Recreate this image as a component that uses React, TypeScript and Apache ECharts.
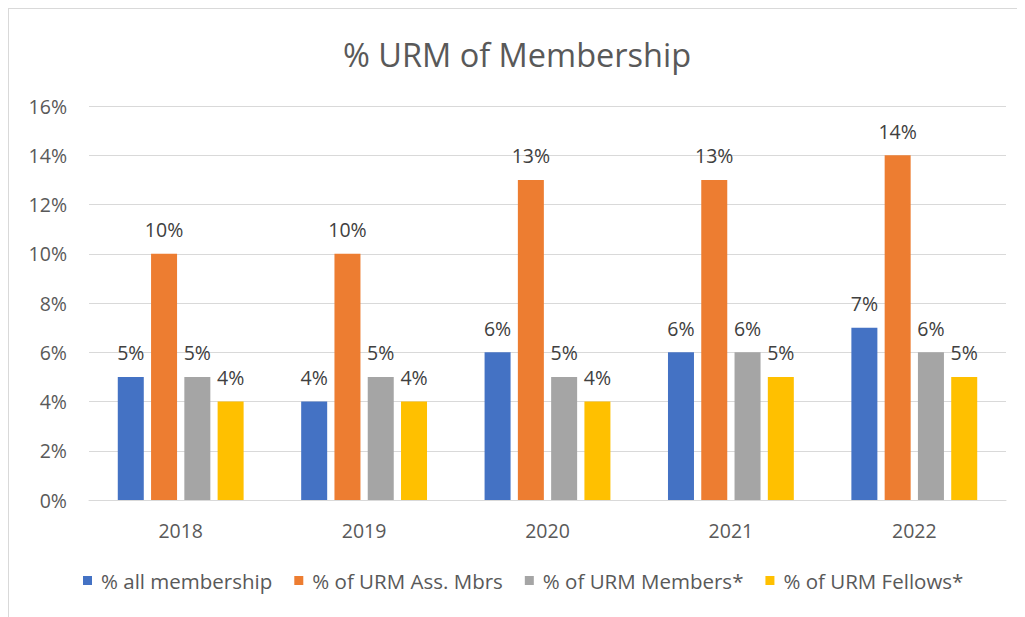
import React, { useEffect, useRef } from "react";
import * as echarts from "echarts";

const years = ["2018", "2019", "2020", "2021", "2022"];
const allMembership = [5, 4, 6, 6, 7];
const urmAssMbrs = [10, 10, 13, 13, 14];
const urmMembers = [5, 5, 5, 6, 6];
const urmFellows = [4, 4, 4, 5, 5];
const seriesNames = ["% all membership", "% of URM Ass. Mbrs", "% of URM Members*", "% of URM Fellows*"];
const colors = ["#4472C4", "#ED7D31", "#A5A5A5", "#FFC000"];

const FONT = "'Open Sans', sans-serif";

export default function App() {
  const ref = useRef<HTMLDivElement>(null);
  useEffect(() => {
    if (!ref.current) return;
    const chart = echarts.init(ref.current, null, { renderer: "svg" });
    const data = [allMembership, urmAssMbrs, urmMembers, urmFellows];
    chart.setOption({
      animation: false,
      textStyle: { fontFamily: FONT },
      title: {
        text: "% URM of Membership",
        left: "center",
        top: 24,
        textStyle: { fontFamily: FONT, fontSize: 32.5, fontWeight: "normal", color: "#595959" },
      },
      legend: {
        bottom: 21,
        left: 69,
        itemWidth: 9,
        itemHeight: 9,
        itemGap: 22,
        icon: "rect",
        textStyle: { fontFamily: FONT, fontSize: 20.5, color: "#595959", padding: [0, 0, 0, 4] },
        data: seriesNames,
      },
      grid: { left: 80, right: 19, top: 97, bottom: 117, containLabel: false },
      xAxis: {
        type: "category",
        data: years,
        axisLine: { lineStyle: { color: "#d9d9d9", width: 1 } },
        axisTick: { show: false },
        axisLabel: { fontFamily: FONT, fontSize: 19.5, color: "#595959", margin: 20 },
      },
      yAxis: {
        type: "value",
        min: 0,
        max: 16,
        interval: 2,
        axisLine: { show: false },
        axisTick: { show: false },
        splitLine: { lineStyle: { color: "#d9d9d9", width: 1 } },
        axisLabel: { fontFamily: FONT, fontSize: 19.5, color: "#595959", margin: 22, formatter: "{value}%" },
      },
      series: seriesNames.map((name, i) => ({
        name,
        type: "bar",
        data: data[i],
        barWidth: 26,
        barGap: "28%",
        itemStyle: { color: colors[i] },
        label: {
          show: true,
          position: "top",
          distance: 14,
          formatter: "{c}%",
          fontFamily: FONT,
          fontSize: 19.5,
          color: "#404040",
        },
      })),
    });
    return () => chart.dispose();
  }, []);
  return (
    <div
      ref={ref}
      style={{
        width: 1017,
        height: 609,
        boxSizing: "border-box",
        borderLeft: "1px solid #d9d9d9",
        borderTop: "1px solid #d9d9d9",
      }}
    />
  );
}
